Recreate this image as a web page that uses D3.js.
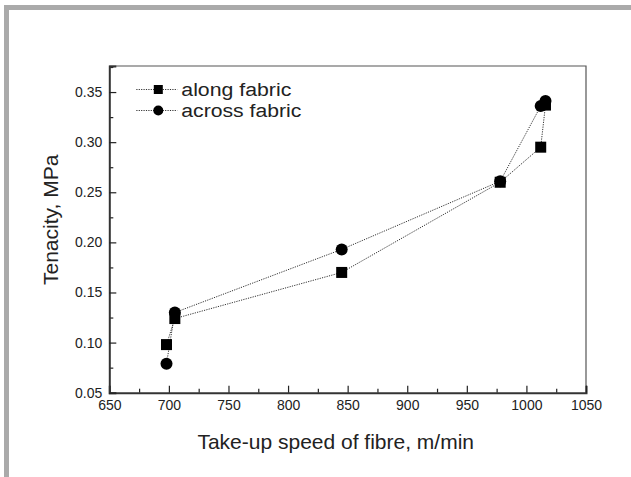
<!DOCTYPE html>
<html>
<head>
<meta charset="utf-8">
<script src="https://cdn.jsdelivr.net/npm/d3@7"></script>
<style>
  html, body { margin: 0; padding: 0; background: #fff; }
  svg { display: block; font-family: "Liberation Sans", Arial, sans-serif; }
</style>
</head>
<body>
<svg id="chart" width="631" height="477"></svg>
<script>
// take-up speed (m/min) and tenacity (MPa)
const alongSpeed = [698, 705, 845, 978, 1012, 1016];
const alongTenacity = [0.098, 0.124, 0.170, 0.260, 0.295, 0.337];
const acrossSpeed = [698, 705, 845, 978, 1012, 1016];
const acrossTenacity = [0.079, 0.130, 0.193, 0.261, 0.336, 0.341];

const xTicks = [650, 700, 750, 800, 850, 900, 950, 1000, 1050];
const yTicks = [0.05, 0.10, 0.15, 0.20, 0.25, 0.30, 0.35];
const seriesNames = ['along fabric', 'across fabric'];

const svg = d3.select('#chart');
const margin = { top: 66, right: 45, bottom: 84.3, left: 109.3 };
const width = 631 - margin.left - margin.right;
const height = 477 - margin.top - margin.bottom;
const ink = '#222';

// grey page border (top and left)
svg.append('rect').attr('x', 4).attr('y', 5).attr('width', 627).attr('height', 5).attr('fill', '#aaaaaa');
svg.append('rect').attr('x', 4).attr('y', 5).attr('width', 5).attr('height', 472).attr('fill', '#aaaaaa');

const g = svg.append('g').attr('transform', `translate(${margin.left},${margin.top})`);

const x = d3.scaleLinear().domain([650, 1050]).range([0, width]);
const y = d3.scaleLinear().domain([0.05, 0.376]).range([height, 0]);

// frame: thin top/right
g.append('path')
  .attr('d', `M0,0H${width}V${height}`)
  .attr('fill', 'none').attr('stroke', '#555').attr('stroke-width', 1.2);

// minor ticks
const xMinor = xTicks.slice(0, -1).map(v => v + 25);
const yMinor = yTicks.map(v => v + 0.025);
g.append('g').attr('transform', `translate(0,${height})`)
  .call(d3.axisBottom(x).tickValues(xMinor).tickSize(-4).tickFormat(''))
  .call(a => a.select('.domain').remove())
  .selectAll('line').attr('stroke', ink).attr('stroke-width', 1.2);
g.append('g')
  .call(d3.axisLeft(y).tickValues(yMinor).tickSize(-4).tickFormat(''))
  .call(a => a.select('.domain').remove())
  .selectAll('line').attr('stroke', ink).attr('stroke-width', 1.2);

// major axes
const xAxis = g.append('g').attr('transform', `translate(0,${height})`)
  .call(d3.axisBottom(x).tickValues(xTicks).tickSize(-7).tickPadding(7).tickFormat(d3.format('d')));
const yAxis = g.append('g')
  .call(d3.axisLeft(y).tickValues(yTicks).tickSize(-7).tickPadding(7).tickFormat(d3.format('.2f')));
[xAxis, yAxis].forEach(a => {
  a.select('.domain').attr('stroke', '#333').attr('stroke-width', 2);
  a.selectAll('.tick line').attr('stroke', ink).attr('stroke-width', 1.2);
  a.selectAll('.tick text').attr('fill', ink).style('font-size', '14px')
    .style('font-family', '"Liberation Sans", Arial, sans-serif');
});

// axis titles
g.append('text')
  .attr('x', x(840)).attr('y', height + 56)
  .attr('text-anchor', 'middle').attr('fill', ink).style('font-size', '21px')
  .text('Take-up speed of fibre, m/min');
g.append('text')
  .attr('transform', `translate(${-59},${y(0.2225)}) rotate(-90)`)
  .attr('text-anchor', 'middle').attr('dy', '0.35em').attr('fill', ink).style('font-size', '21px')
  .text('Tenacity, MPa');

const line = d3.line().x(d => x(d[0])).y(d => y(d[1]));
const along = alongSpeed.map((v, i) => [v, alongTenacity[i]]);
const across = acrossSpeed.map((v, i) => [v, acrossTenacity[i]]);

[along, across].forEach(data => {
  g.append('path').datum(data)
    .attr('fill', 'none').attr('stroke', '#333').attr('stroke-width', 1)
    .attr('stroke-dasharray', '1.2,1.2').attr('d', line);
});

const sq = 11;
g.selectAll('.sq').data(along).join('rect')
  .attr('x', d => x(d[0]) - sq / 2).attr('y', d => y(d[1]) - sq / 2)
  .attr('width', sq).attr('height', sq).attr('fill', '#000');
g.selectAll('.ci').data(across).join('circle')
  .attr('cx', d => x(d[0])).attr('cy', d => y(d[1])).attr('r', 6).attr('fill', '#000');

// legend
const legend = g.append('g').attr('transform', 'translate(27,23.5)');
const legendWidths = [110, 120];
seriesNames.forEach((name, i) => {
  const row = legend.append('g').attr('transform', `translate(0,${i * 21})`);
  row.append('line').attr('x1', 0).attr('x2', 41).attr('y1', 0).attr('y2', 0)
    .attr('stroke', '#333').attr('stroke-width', 1).attr('stroke-dasharray', '1.2,1.2');
  if (i === 0) {
    row.append('rect').attr('x', 22 - 4.5).attr('y', -4.5).attr('width', 9).attr('height', 9).attr('fill', '#000');
  } else {
    row.append('circle').attr('cx', 22).attr('cy', 0).attr('r', 5).attr('fill', '#000');
  }
  row.append('text').attr('x', 45).attr('y', 0).attr('dy', '0.35em')
    .attr('fill', ink).style('font-size', '18px')
    .attr('textLength', legendWidths[i]).attr('lengthAdjust', 'spacingAndGlyphs')
    .text(name);
});
</script>
</body>
</html>
